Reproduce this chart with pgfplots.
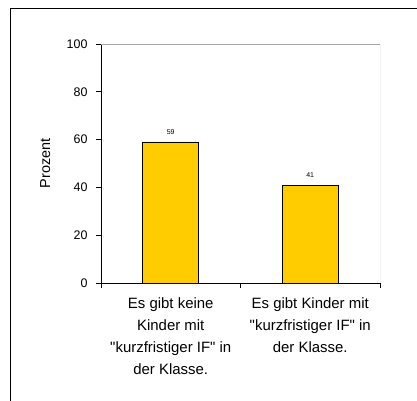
\documentclass[border=0pt]{standalone}
\usepackage{fontspec}
\setmainfont{Liberation Sans}
\newfontfamily\labfont{Liberation Sans}
\usepackage{pgfplots}
\pgfplotsset{compat=1.18}
\definecolor{barfill}{HTML}{FFCC00}
\begin{document}
\begin{tikzpicture}
\useasboundingbox (-101bp,-118bp) rectangle (316bp,283bp);
\draw[black, line width=1bp] (-90bp,-120bp) -- (-90bp,274bp) -- (320bp,274bp);
\begin{axis}[
  at={(0,0)}, anchor=south west,
  scale only axis,
  width=279bp, height=239bp,
  xmin=-0.5, xmax=1.5,
  ymin=0, ymax=100,
  axis x line*=bottom, axis y line*=left,
  axis line style={black, line width=0.8bp, -},
  ytick={0,20,40,60,80,100},
  xtick={-0.5,0.5,1.5},
  xticklabels={},
  tick align=outside,
  major tick length=5bp,
  tick style={black, line width=0.8bp},
  /pgf/number format/assume math mode=true,
  yticklabel style={font=\fontsize{12.5}{14}\selectfont, xshift=-5bp},
  extra x ticks={0,1},
  extra x tick labels={{Es gibt keine\\Kinder mit\\"kurzfristiger IF" in\\der Klasse.},{Es gibt Kinder mit\\"kurzfristiger IF" in\\der Klasse.}},
  extra x tick style={major tick length=0pt, tick label style={align=center, font=\labfont\fontsize{15}{22}\selectfont, anchor=north, yshift=-11bp}},
  ylabel={Prozent},
  ylabel style={at={(axis description cs:-0.2,0.5)}, anchor=center, font=\fontsize{14.5}{17}\selectfont},
  nodes near coords,
  every node near coord/.append style={font=\fontsize{7}{8}\selectfont, yshift=4bp},
]
\draw[gray!70, line width=0.8bp] (rel axis cs:0,1) -- (rel axis cs:1,1) -- (rel axis cs:1,0);
\addplot[ybar, bar width=0.4, fill=barfill, draw=black, line width=0.8bp] coordinates {(0,59) (1,41)};
\end{axis}
\end{tikzpicture}
\end{document}
